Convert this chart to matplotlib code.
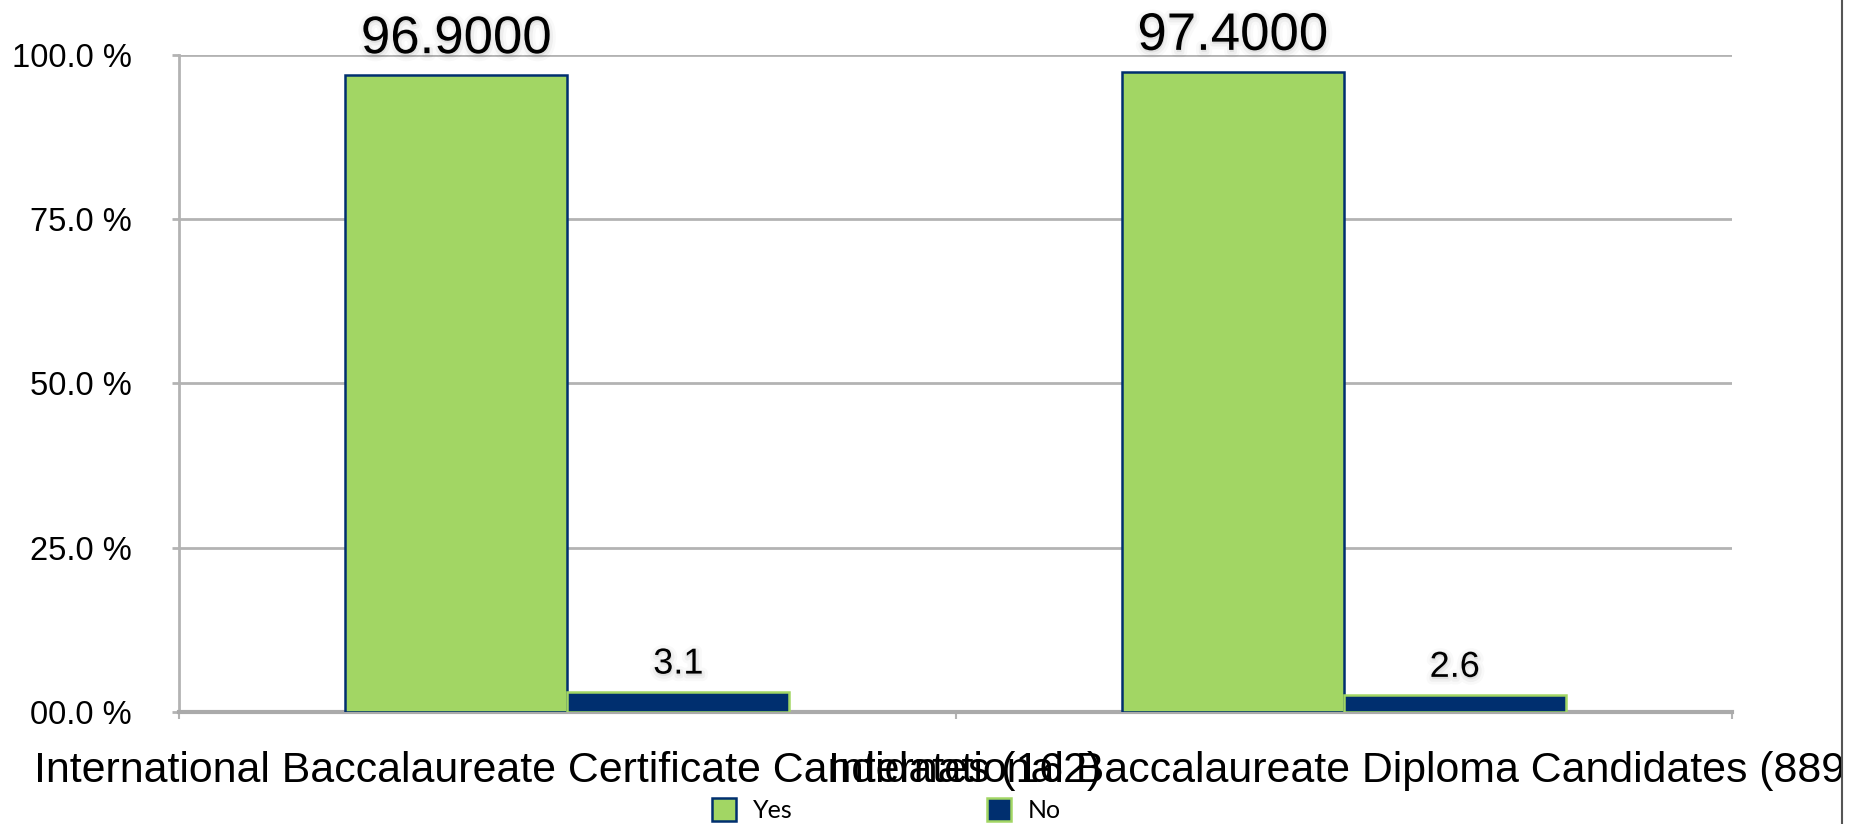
import matplotlib
matplotlib.use('Agg')
import matplotlib.pyplot as plt
import matplotlib.patheffects as pe
from matplotlib.patches import Rectangle
from matplotlib.lines import Line2D

# data
categories = ['International Baccalaureate Certificate Candidates (162)',
              'International Baccalaureate Diploma Candidates (889)']
yes_vals = [96.9, 97.4]
no_vals = [3.1, 2.6]
yes_labels = ['96.9000', '97.4000']
no_labels = ['3.1', '2.6']
y_ticks = [0, 25, 50, 75, 100]
y_ticklabels = ['00.0 %', '25.0 %', '50.0 %', '75.0 %', '100.0 %']

green = '#a2d664'
navy = '#002f6f'
grid_c = '#b3b3b3'

plt.rcParams['font.family'] = ['Liberation Sans', 'DejaVu Sans']

fig = plt.figure(figsize=(18.66, 8.24), dpi=100)
ax = fig.add_axes([179 / 1866, 1 - 712 / 824, (1732 - 179) / 1866, (712 - 55) / 824])

x = list(range(len(categories)))
w = 0.286
yes_x = [i - w / 2 for i in x]
no_x = [i + w / 2 for i in x]
b_yes = ax.bar(yes_x, yes_vals, width=w, color=green, edgecolor=navy, linewidth=1.8, label='Yes', zorder=3)
b_no = ax.bar(no_x, no_vals, width=w, color=navy, edgecolor=green, linewidth=1.8, label='No', zorder=3)

# value labels with a soft shadow
halo = [pe.Stroke(linewidth=8, foreground='#000000', alpha=0.025, offset=(0.5, -1.5)),
        pe.Stroke(linewidth=4, foreground='#000000', alpha=0.04, offset=(0.5, -1.5)),
        pe.Normal()]
for xi, v, s in zip(yes_x, yes_vals, yes_labels):
    ax.annotate(s, (xi, v), xytext=(0, 16), textcoords='offset points',
                ha='center', va='baseline', fontsize=38, color='black',
                path_effects=halo, annotation_clip=False, zorder=5)
for xi, v, s in zip(no_x, no_vals, no_labels):
    ax.annotate(s, (xi, v), xytext=(0, 13), textcoords='offset points',
                ha='center', va='baseline', fontsize=26, color='black',
                path_effects=halo, annotation_clip=False, zorder=5)

ax.set_xlim(-0.5, len(categories) - 0.5)
ax.set_ylim(0, 100)
ax.set_yticks(y_ticks)
ax.set_yticklabels(y_ticklabels, fontsize=23.5)
ax.yaxis.grid(True, color=grid_c, linewidth=2, zorder=0)
ax.set_axisbelow(True)
ax.tick_params(axis='y', length=5, width=2, color=grid_c, pad=29)

# ticks at category boundaries, labels centred on categories
ax.set_xticks([i - 0.5 for i in range(len(categories) + 1)])
ax.set_xticklabels([])
ax.set_xticks(x, minor=True)
ax.set_xticklabels(categories, minor=True, fontsize=30.9)
ax.tick_params(axis='x', which='major', length=5, width=1.5, color=grid_c, direction='out')
ax.tick_params(axis='x', which='minor', length=0, pad=28)

for side in ['top', 'right']:
    ax.spines[side].set_visible(False)
ax.spines['left'].set_color(grid_c)
ax.spines['left'].set_linewidth(2)
ax.spines['bottom'].set_color('#aaaaaa')
ax.spines['bottom'].set_linewidth(3)

fig.legend(handles=[b_yes, b_no], loc='center left', bbox_to_anchor=(712 / 1866, 14 / 824),
           ncol=2, frameon=False, prop={'family': 'Lato', 'size': 18},
           handlelength=0.95, handleheight=1.0, handletextpad=0.7,
           columnspacing=7.75, borderpad=0, borderaxespad=0)

# right border of the original image clips the second label
fig.add_artist(Rectangle((1843 / 1866, 0), 1, 1, transform=fig.transFigure,
                         facecolor='white', edgecolor='none', zorder=10))
fig.add_artist(Line2D([1842 / 1866, 1842 / 1866], [0, 1], transform=fig.transFigure,
                      color='#555555', linewidth=1.5, zorder=11))

fig.savefig('out.png', dpi=100)
